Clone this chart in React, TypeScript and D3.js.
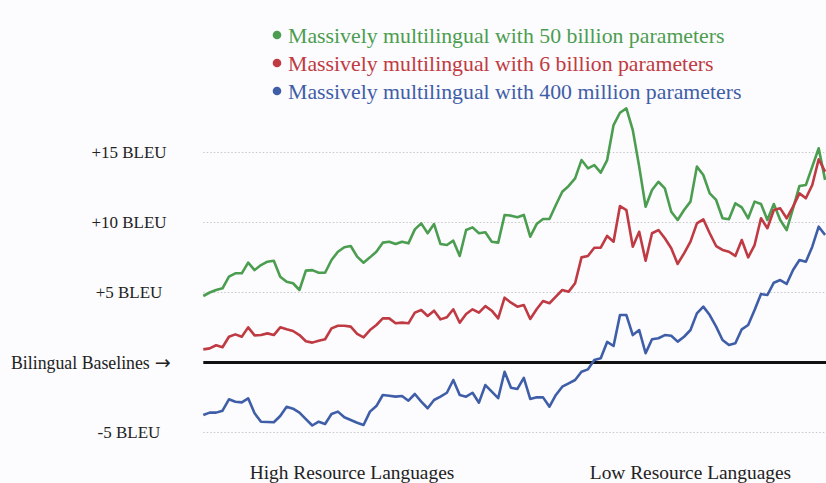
import React from 'react';
import * as d3 from 'd3';

const seriesNames = [
  'Massively multilingual with 50 billion parameters',
  'Massively multilingual with 6 billion parameters',
  'Massively multilingual with 400 million parameters',
];

const green50B = [4.75, 5.0, 5.18, 5.3, 6.13, 6.37, 6.37, 7.13, 6.6, 6.96,
  7.2, 7.27, 6.13, 5.77, 5.66, 5.18, 6.56, 6.6, 6.41, 6.41,
  7.32, 7.91, 8.23, 8.32, 7.56, 7.13, 7.51, 7.91, 8.56, 8.63,
  8.46, 8.63, 8.51, 9.51, 9.94, 9.23, 9.89, 8.46, 8.39, 8.7,
  7.61, 9.46, 9.65, 9.23, 9.3, 8.63, 8.56, 10.54, 10.49, 10.37,
  10.54, 8.99, 9.89, 10.25, 10.25, 11.25, 12.2, 12.61, 13.15, 14.46,
  13.87, 14.1, 13.56, 14.46, 16.96, 17.84, 18.15, 16.6, 13.99, 11.13,
  12.32, 12.91, 12.44, 10.77, 10.18, 10.89, 11.49, 13.99, 13.39, 12.08,
  11.61, 10.3, 10.23, 11.37, 11.08, 10.3, 11.49, 11.32, 10.18, 11.32,
  10.18, 9.46, 11.01, 12.61, 12.68, 13.99, 15.3, 13.04];

const red6B = [0.94, 1.01, 1.23, 1.09, 1.84, 2.01, 1.84, 2.51, 1.94, 1.96,
  2.08, 1.96, 2.51, 2.37, 2.25, 1.96, 1.52, 1.42, 1.56, 1.66,
  2.44, 2.63, 2.63, 2.56, 2.04, 1.8, 2.32, 2.68, 3.15, 3.15,
  2.8, 2.85, 2.8, 3.56, 3.75, 3.32, 3.7, 3.08, 3.23, 3.8,
  2.84, 3.46, 3.8, 3.56, 4.03, 3.7, 3.15, 4.63, 4.27, 3.99,
  4.11, 3.11, 3.8, 4.39, 4.23, 4.7, 5.18, 5.06, 5.66, 7.51,
  7.61, 8.2, 8.2, 9.04, 8.63, 11.18, 10.89, 8.27, 9.34, 7.27,
  9.23, 9.46, 8.87, 8.16, 7.04, 7.8, 8.63, 9.94, 10.23, 9.23,
  8.32, 8.04, 7.91, 7.61, 8.75, 7.51, 8.39, 10.3, 9.59, 10.89,
  11.01, 10.3, 11.13, 12.08, 11.73, 12.68, 14.52, 13.63];

const blue400M = [-3.75, -3.58, -3.58, -3.44, -2.63, -2.8, -2.85, -2.56, -3.63, -4.23,
  -4.25, -4.27, -3.82, -3.16, -3.3, -3.58, -4.05, -4.5, -4.23, -4.39,
  -3.68, -3.51, -3.91, -4.11, -4.3, -4.46, -3.51, -3.11, -2.32, -2.37,
  -2.44, -2.39, -2.73, -2.25, -2.8, -3.27, -2.68, -2.44, -2.16, -1.25,
  -2.32, -2.44, -2.16, -2.87, -1.61, -2.08, -2.55, -0.66, -1.8, -1.89,
  -1.1, -2.6, -2.49, -2.49, -3.16, -2.32, -1.73, -1.49, -1.25, -0.66,
  -0.49, 0.18, 0.3, 1.47, 1.18, 3.39, 3.39, 1.96, 2.32, 0.66,
  1.66, 1.73, 1.96, 1.91, 1.49, 1.84, 2.32, 3.51, 3.99, 3.39,
  2.56, 1.61, 1.25, 1.37, 2.37, 2.68, 3.75, 4.89, 4.82, 5.7,
  5.89, 5.61, 6.61, 7.32, 7.2, 8.27, 9.7, 9.11];

const yTicks = [15, 10, 5, -5];
const yTickLabels = ['+15 BLEU', '+10 BLEU', '+5 BLEU', '-5 BLEU'];
const baselineLabel = 'Bilingual Baselines';
const baselineArrow = '\u2192';
const groupLabels = ['High Resource Languages', 'Low Resource Languages'];
const groupCenters = [23.2, 76.0];

const colors = ['#4b9d50', '#bf3a42', '#3f5ea8'];

export default function App() {
  const W = 826, H = 483;
  const allSeries = [green50B, red6B, blue400M];
  const n = green50B.length;
  const x = d3.scaleLinear().domain([0, n - 1]).range([203.3, 825.1]);
  const y = d3.scaleLinear().domain([-5, 15]).range([432.5, 152.5]);
  const line = d3.line<number>().x((_, i) => x(i)).y((d) => y(d));
  const font = '"Liberation Serif", "Times New Roman", serif';

  return (
    <svg width={W} height={H} style={{ position: 'absolute', left: 0, top: 0, background: '#fcfbfd' }}
      fontFamily={font}>
      <rect x={0} y={0} width={W} height={H} fill="#fcfbfd" />
      {yTicks.map((t, i) => (
        <g key={t}>
          <line x1={x(0)} x2={W} y1={y(t)} y2={y(t)} stroke="#c8c8cc" strokeWidth={1} strokeDasharray="1.5,2" />
          <text x={129} y={y(t)} dy="0.35em" textAnchor="middle" fontSize={17} fill="#222">{yTickLabels[i]}</text>
        </g>
      ))}
      <line x1={x(0)} x2={W} y1={y(0)} y2={y(0)} stroke="#111" strokeWidth={3} />
      <text x={11} y={y(0)} dy="0.35em" textAnchor="start" fontSize={17.8} fill="#222">
        {baselineLabel}
        <tspan dx={5} fontFamily="'DejaVu Sans', sans-serif" fontSize={19}>{baselineArrow}</tspan>
      </text>
      {allSeries.map((s, i) => (
        <path key={i} d={line(s) || ''} fill="none" stroke={colors[i]} strokeWidth={2.6} strokeLinejoin="round" />
      ))}
      {seriesNames.map((name, i) => (
        <g key={name}>
          <circle cx={277} cy={35 + i * 28} r={4.3} fill={colors[i]} />
          <text x={288} y={35 + i * 28} dy="0.35em" fontSize={21.8} fill={colors[i]}>{name}</text>
        </g>
      ))}
      {groupLabels.map((g, i) => (
        <text key={g} x={x(groupCenters[i])} y={479} textAnchor="middle" fontSize={19.4} fill="#222">{g}</text>
      ))}
    </svg>
  );
}
